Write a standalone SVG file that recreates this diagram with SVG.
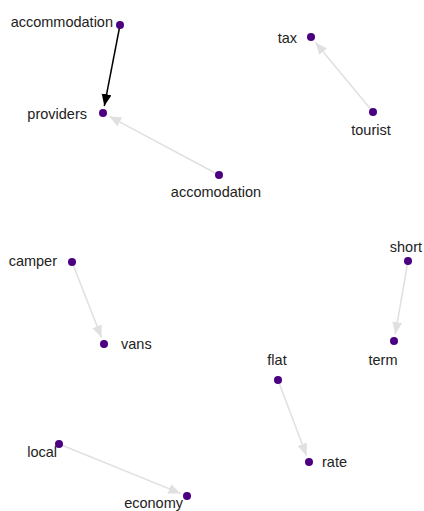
<svg xmlns="http://www.w3.org/2000/svg" width="424" height="511" viewBox="0 0 424 511">
<style>
.node circle{fill:#4b0082;}
.node text{font-family:"Liberation Sans","DejaVu Sans",sans-serif;font-size:14.5px;fill:#222;}
.e{stroke:#e0e0e0;stroke-width:1.5;fill:none;marker-end:url(#ag);}
.eb{stroke:#000;stroke-width:1.5;fill:none;marker-end:url(#ab);}
</style>
<defs>
<marker id="ag" markerUnits="userSpaceOnUse" markerWidth="13" markerHeight="11" refX="12" refY="5" orient="auto"><path d="M0,0 L12,5 L0,10 z" fill="#e0e0e0"/></marker>
<marker id="ab" markerUnits="userSpaceOnUse" markerWidth="13" markerHeight="11" refX="12" refY="5" orient="auto"><path d="M0,0 L12,5 L0,10 z" fill="#000"/></marker>
</defs>
<rect width="424" height="511" fill="#fff"/>
<g id="connectors">
<line class="eb" x1="120" y1="25" x2="104.3" y2="106.1"/>
<line class="e" x1="219" y1="175" x2="109.2" y2="116.3"/>
<line class="e" x1="373" y1="112" x2="315.5" y2="42.4"/>
<line class="e" x1="72" y1="262" x2="101.5" y2="337.5"/>
<line class="e" x1="408" y1="261" x2="395.2" y2="334.1"/>
<line class="e" x1="278" y1="380" x2="306.5" y2="455.5"/>
<line class="e" x1="59" y1="444" x2="180.5" y2="493.4"/>
</g>
<g id="n-accommodation" class="node"><circle cx="120" cy="25" r="4"/><text x="113" y="27" text-anchor="end">accommodation</text></g>
<g id="n-providers" class="node"><circle cx="103" cy="113" r="4"/><text x="87" y="119" text-anchor="end">providers</text></g>
<g id="n-accomodation" class="node"><circle cx="219" cy="175" r="4"/><text x="216" y="197" text-anchor="middle">accomodation</text></g>
<g id="n-tax" class="node"><circle cx="311" cy="37" r="4"/><text x="297" y="43" text-anchor="end">tax</text></g>
<g id="n-tourist" class="node"><circle cx="373" cy="112" r="4"/><text x="371" y="135" text-anchor="middle">tourist</text></g>
<g id="n-camper" class="node"><circle cx="72" cy="262" r="4"/><text x="57" y="266" text-anchor="end">camper</text></g>
<g id="n-vans" class="node"><circle cx="104" cy="344" r="4"/><text x="121" y="349">vans</text></g>
<g id="n-short" class="node"><circle cx="408" cy="261" r="4"/><text x="422" y="252" text-anchor="end">short</text></g>
<g id="n-term" class="node"><circle cx="394" cy="341" r="4"/><text x="383" y="365" text-anchor="middle">term</text></g>
<g id="n-flat" class="node"><circle cx="278" cy="380" r="4"/><text x="277" y="365" text-anchor="middle">flat</text></g>
<g id="n-rate" class="node"><circle cx="309" cy="462" r="4"/><text x="322" y="467">rate</text></g>
<g id="n-local" class="node"><circle cx="59" cy="444" r="4"/><text x="57" y="457" text-anchor="end">local</text></g>
<g id="n-economy" class="node"><circle cx="187" cy="496" r="4"/><text x="183" y="508" text-anchor="end">economy</text></g>
</svg>
